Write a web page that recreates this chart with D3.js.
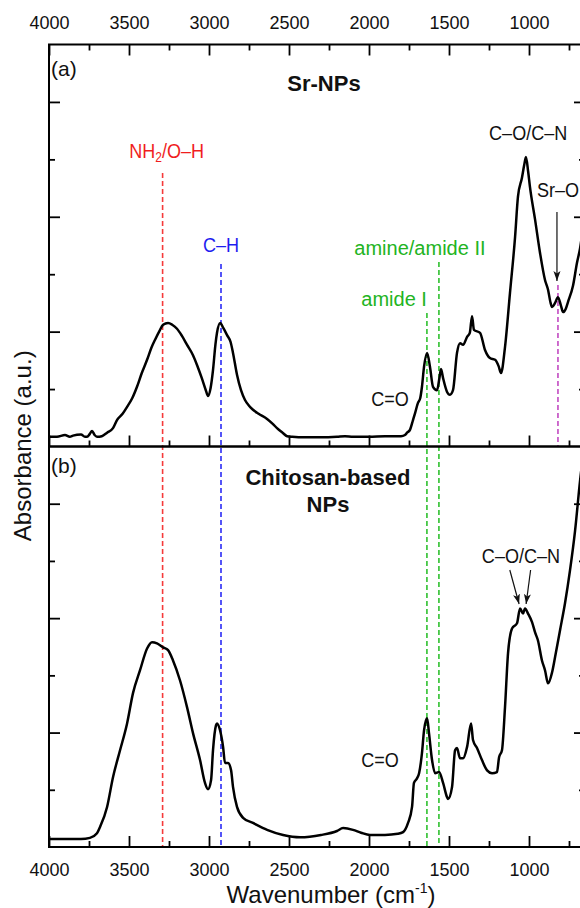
<!DOCTYPE html>
<html>
<head>
<meta charset="utf-8">
<script src="https://cdn.jsdelivr.net/npm/d3@7"></script>
<style>
  body { margin: 0; background: #fff; }
  svg { display: block; font-family: 'Liberation Sans', Arial, sans-serif; }
</style>
</head>
<body>
<svg id="chart" width="580" height="908"></svg>
<script>
// wavenumber (cm-1), absorbance (a.u., 1 = one y tick)
let srNPs = [
  [4000, 0.17], [3950, 0.17], [3900, 0.2], [3870, 0.17], [3850, 0.19], [3800, 0.21],
  [3775, 0.17], [3762, 0.17], [3745, 0.22], [3731, 0.27], [3715, 0.2], [3700, 0.17],
  [3670, 0.18], [3637, 0.24], [3600, 0.32], [3575, 0.46], [3540, 0.57], [3512, 0.69],
  [3480, 0.84], [3450, 1.04], [3420, 1.28], [3387, 1.51], [3360, 1.72], [3337, 1.86],
  [3310, 2.01], [3287, 2.12], [3256, 2.15], [3230, 2.12], [3200, 2.05], [3170, 1.93],
  [3137, 1.77], [3100, 1.59], [3075, 1.42], [3045, 1.19], [3020, 0.98], [3006, 0.88],
  [2990, 1.02], [2975, 1.33], [2960, 1.77], [2950, 1.98], [2930, 2.15], [2910, 2.06],
  [2887, 1.94], [2865, 1.82], [2850, 1.63], [2825, 1.25], [2800, 0.98], [2775, 0.81],
  [2750, 0.71], [2725, 0.64], [2690, 0.57], [2637, 0.48], [2600, 0.39], [2575, 0.32],
  [2540, 0.24], [2512, 0.18], [2480, 0.17], [2400, 0.16], [2300, 0.16], [2200, 0.17],
  [2150, 0.18], [2100, 0.17], [2000, 0.17], [1900, 0.18], [1800, 0.18], [1775, 0.2],
  [1762, 0.24], [1744, 0.29], [1725, 0.46], [1712, 0.58], [1694, 0.76], [1680, 0.84],
  [1669, 1.04], [1656, 1.39], [1637, 1.63], [1619, 1.39], [1600, 1.04], [1575, 0.98],
  [1560, 1.19], [1550, 1.35], [1537, 1.19], [1512, 0.95], [1494, 0.9], [1475, 0.98],
  [1450, 1.63], [1431, 1.8], [1412, 1.77], [1387, 1.91], [1370, 1.98], [1356, 2.27],
  [1344, 2.03], [1306, 1.98], [1275, 1.68], [1244, 1.54], [1212, 1.51], [1190, 1.4],
  [1175, 1.28], [1150, 1.73], [1119, 2.67], [1087, 3.65], [1069, 4.35], [1044, 4.68],
  [1030, 4.9], [1019, 5.04], [1005, 4.78], [994, 4.52], [962, 3.95], [931, 3.37],
  [900, 2.9], [881, 2.73], [865, 2.5], [856, 2.43], [837, 2.5], [819, 2.6],
  [800, 2.45], [787, 2.34], [770, 2.4], [756, 2.52], [725, 2.8], [700, 3.2],
  [681, 3.45], [650, 4.1]
]

let chitosanNPs = [
  [4000, 0.14], [3900, 0.14], [3800, 0.14], [3744, 0.16], [3700, 0.24], [3681, 0.35],
  [3637, 0.7], [3600, 1.22], [3556, 1.69], [3512, 2.16], [3475, 2.69], [3431, 3.09],
  [3387, 3.47], [3356, 3.58], [3325, 3.56], [3287, 3.49], [3256, 3.44], [3225, 3.26],
  [3181, 2.91], [3137, 2.44], [3100, 1.99], [3056, 1.52], [3025, 1.12], [3006, 1.01],
  [2987, 1.17], [2975, 1.69], [2956, 2.13], [2950, 2.16], [2931, 2.04], [2912, 1.75],
  [2900, 1.47], [2881, 1.47], [2862, 1.34], [2850, 1.05], [2825, 0.7], [2787, 0.51],
  [2725, 0.42], [2637, 0.3], [2537, 0.21], [2431, 0.17], [2300, 0.21], [2200, 0.28],
  [2162, 0.33], [2100, 0.3], [2050, 0.25], [1994, 0.21], [1900, 0.21], [1820, 0.23],
  [1787, 0.26], [1756, 0.42], [1731, 0.7], [1719, 1.12], [1700, 1.2], [1687, 1.29],
  [1669, 1.64], [1656, 2.04], [1637, 2.25], [1625, 1.99], [1606, 1.52], [1587, 1.29],
  [1562, 1.31], [1537, 1.12], [1512, 0.87], [1506, 0.84], [1481, 1.05], [1462, 1.69],
  [1450, 1.73], [1431, 1.55], [1412, 1.55], [1387, 1.75], [1362, 2.16], [1350, 1.87],
  [1325, 1.73], [1294, 1.52], [1262, 1.34], [1231, 1.29], [1200, 1.31], [1187, 1.57],
  [1169, 1.69], [1150, 2.44], [1131, 3.39], [1106, 3.82], [1075, 3.91], [1056, 4.17],
  [1037, 4.08], [1025, 4.17], [1006, 4.08], [981, 3.93], [962, 3.75], [944, 3.61],
  [919, 3.26], [900, 3.09], [881, 2.86], [856, 3.05], [837, 3.32], [806, 3.79],
  [775, 4.26], [744, 4.83], [712, 5.53], [681, 6.4], [650, 7.1]
]

let majorTicks = [4000, 3500, 3000, 2500, 2000, 1500, 1000]
let minorTicks = [3750, 3250, 2750, 2250, 1750, 1250, 750]
let yMajor = [2, 4, 6]
let yMinor = [1, 3, 5]

// band positions (cm-1)
let bands = [
  { name: 'NH2/O-H', w: 3290, color: '#f53a3a' },
  { name: 'C-H', w: 2925, color: '#2b2bf5' },
  { name: 'amide I', w: 1638, color: '#2fc02f' },
  { name: 'amine/amide II', w: 1563, color: '#2fc02f' },
  { name: 'Sr-O', w: 819, color: '#c24ac2' }
]

let plotLeft = 49
let plotRight = 585
let plotTop = 44.5
let plotMid = 446.5
let plotBottom = 847

let svg = d3.select('#chart')

let x = d3.scaleLinear().domain([4000, 650]).range([plotLeft, plotRight])
let yA = d3.scaleLinear().domain([0, 7]).range([plotMid, plotTop])
let yB = d3.scaleLinear().domain([0, 7]).range([plotBottom, plotMid])

let defs = svg.append('defs')
defs.append('clipPath').attr('id', 'clipA')
  .append('rect').attr('x', plotLeft).attr('y', plotTop)
  .attr('width', plotRight - plotLeft).attr('height', plotMid - plotTop)
defs.append('clipPath').attr('id', 'clipB')
  .append('rect').attr('x', plotLeft).attr('y', plotMid)
  .attr('width', plotRight - plotLeft).attr('height', plotBottom - plotMid)
defs.append('marker')
  .attr('id', 'arrow')
  .attr('viewBox', '0 0 10 10')
  .attr('refX', 10).attr('refY', 5)
  .attr('markerWidth', 10).attr('markerHeight', 10)
  .attr('markerUnits', 'userSpaceOnUse')
  .attr('orient', 'auto')
  .append('path')
  .attr('d', 'M0,1.5 L10,5 L0,8.5 L2.5,5 Z')
  .attr('fill', '#111')

// dashed band lines
let bandLine = (b, y1, y2) => {
  svg.append('line')
    .attr('x1', x(b.w)).attr('x2', x(b.w))
    .attr('y1', y1).attr('y2', y2)
    .attr('stroke', b.color)
    .attr('stroke-width', 1.6)
    .attr('stroke-dasharray', '5,3')
}
bandLine(bands[0], 173, plotBottom)
bandLine(bands[1], 264, plotBottom)
bandLine(bands[2], 313, plotBottom)
bandLine(bands[3], 262, plotBottom)
bandLine(bands[4], 285, plotMid)

// spectra
let line = yScale => d3.line()
  .x(d => x(d[0]))
  .y(d => yScale(d[1]))
  .curve(d3.curveMonotoneX)

svg.append('path')
  .datum(srNPs)
  .attr('clip-path', 'url(#clipA)')
  .attr('d', line(yA))
  .attr('fill', 'none')
  .attr('stroke', '#000')
  .attr('stroke-width', 2.5)
  .attr('stroke-linejoin', 'round')

svg.append('path')
  .datum(chitosanNPs)
  .attr('clip-path', 'url(#clipB)')
  .attr('d', line(yB))
  .attr('fill', 'none')
  .attr('stroke', '#000')
  .attr('stroke-width', 2.5)
  .attr('stroke-linejoin', 'round')

// frames
;[[plotTop, plotMid], [plotMid, plotBottom]].forEach(p => {
  svg.append('rect')
    .attr('x', plotLeft).attr('y', p[0])
    .attr('width', plotRight - plotLeft).attr('height', p[1] - p[0])
    .attr('fill', 'none')
    .attr('stroke', '#000')
    .attr('stroke-width', 2)
})

// axes with inward ticks
function addAxis(axis, transform, size, values, labels) {
  let g = svg.append('g')
    .attr('transform', transform)
    .call(axis.tickValues(values).tickSizeInner(size).tickSizeOuter(0)
      .tickPadding(16).tickFormat(labels ? d3.format('d') : ''))
  g.select('.domain').remove()
  g.selectAll('.tick line').attr('stroke', '#000').attr('stroke-width', 1.8)
  g.selectAll('.tick text')
    .attr('font-size', 18)
    .attr('font-family', "'Liberation Sans', Arial, sans-serif")
    .attr('fill', '#111')
  return g
}

addAxis(d3.axisTop(x), `translate(0,${plotTop})`, -11, majorTicks, true)
addAxis(d3.axisTop(x), `translate(0,${plotTop})`, -6, minorTicks, false)
addAxis(d3.axisBottom(x), `translate(0,${plotMid})`, -11, majorTicks, false)
addAxis(d3.axisBottom(x), `translate(0,${plotMid})`, -6, minorTicks, false)
addAxis(d3.axisBottom(x), `translate(0,${plotBottom})`, -11, majorTicks, true)
addAxis(d3.axisBottom(x), `translate(0,${plotBottom})`, -6, minorTicks, false)

;[yA, yB].forEach(ys => {
  addAxis(d3.axisLeft(ys), `translate(${plotLeft},0)`, -11, yMajor, false)
  addAxis(d3.axisLeft(ys), `translate(${plotLeft},0)`, -6, yMinor, false)
  addAxis(d3.axisRight(ys), `translate(${plotRight},0)`, -11, yMajor, false)
  addAxis(d3.axisRight(ys), `translate(${plotRight},0)`, -6, yMinor, false)
})

// axis titles
svg.append('text')
  .attr('transform', `translate(31,${(plotTop + plotBottom) / 2}) rotate(-90)`)
  .attr('text-anchor', 'middle')
  .attr('font-size', 24)
  .attr('fill', '#111')
  .text('Absorbance (a.u.)')

let xt = svg.append('text')
  .attr('x', 331)
  .attr('y', 903)
  .attr('text-anchor', 'middle')
  .attr('font-size', 24)
  .attr('fill', '#111')
xt.append('tspan').text('Wavenumber (cm')
xt.append('tspan').attr('font-size', 14).attr('dy', -10).text('-1')
xt.append('tspan').attr('dy', 10).text(')')

// panel titles
svg.append('text').attr('x', 51).attr('y', 76).attr('font-size', 21).attr('fill', '#111').text('(a)')
svg.append('text').attr('x', 51).attr('y', 473).attr('font-size', 21).attr('fill', '#111').text('(b)')

svg.append('text')
  .attr('x', 324).attr('y', 91)
  .attr('text-anchor', 'middle')
  .attr('font-size', 22).attr('font-weight', 'bold').attr('fill', '#111')
  .text('Sr-NPs')

svg.append('text')
  .attr('x', 328).attr('y', 485)
  .attr('text-anchor', 'middle')
  .attr('font-size', 22).attr('font-weight', 'bold').attr('fill', '#111')
  .text('Chitosan-based')
svg.append('text')
  .attr('x', 328).attr('y', 512)
  .attr('text-anchor', 'middle')
  .attr('font-size', 22).attr('font-weight', 'bold').attr('fill', '#111')
  .text('NPs')

// narrow band labels (condensed by a horizontal scale)
let narrowLabel = (xx, yy, color, anchor) => svg.append('text')
  .attr('transform', `translate(${xx},${yy}) scale(0.86,1)`)
  .attr('text-anchor', anchor || 'middle')
  .attr('font-size', 21)
  .attr('fill', color)

let nh = narrowLabel(x(bands[0].w) + 4, 158, '#f01e1e')
nh.append('tspan').text('NH')
nh.append('tspan').attr('font-size', 14).attr('dy', 4).text('2')
nh.append('tspan').attr('dy', -4).text('/O\u2013H')

narrowLabel(x(bands[1].w), 252, '#1e1ef0').text('C\u2013H')

svg.append('text')
  .attr('x', x(bands[3].w) - 19).attr('y', 255)
  .attr('text-anchor', 'middle')
  .attr('font-size', 20)
  .attr('fill', '#22b422')
  .text('amine/amide II')

svg.append('text')
  .attr('x', x(bands[2].w)).attr('y', 306)
  .attr('text-anchor', 'end')
  .attr('font-size', 20)
  .attr('fill', '#22b422')
  .text('amide I')

narrowLabel(x(1869), 406, '#111').text('C=O')
narrowLabel(x(1931), 767, '#111').text('C=O')
narrowLabel(x(1005), 140, '#111').text('C\u2013O/C\u2013N')
narrowLabel(x(1050), 563, '#111').text('C\u2013O/C\u2013N')
narrowLabel(537, 197, '#111', 'start').text('Sr\u2013O')

// arrows
let arrow = (x1, y1, x2, y2) => svg.append('line')
  .attr('x1', x1).attr('y1', y1).attr('x2', x2).attr('y2', y2)
  .attr('stroke', '#111')
  .attr('stroke-width', 1.2)
  .attr('marker-end', 'url(#arrow)')

arrow(x(bands[4].w) - 1, 212, x(bands[4].w) - 1, 281)
arrow(x(1120), 570, x(1062), 604)
arrow(x(990), 570, x(1018), 604)
</script>
</body>
</html>
